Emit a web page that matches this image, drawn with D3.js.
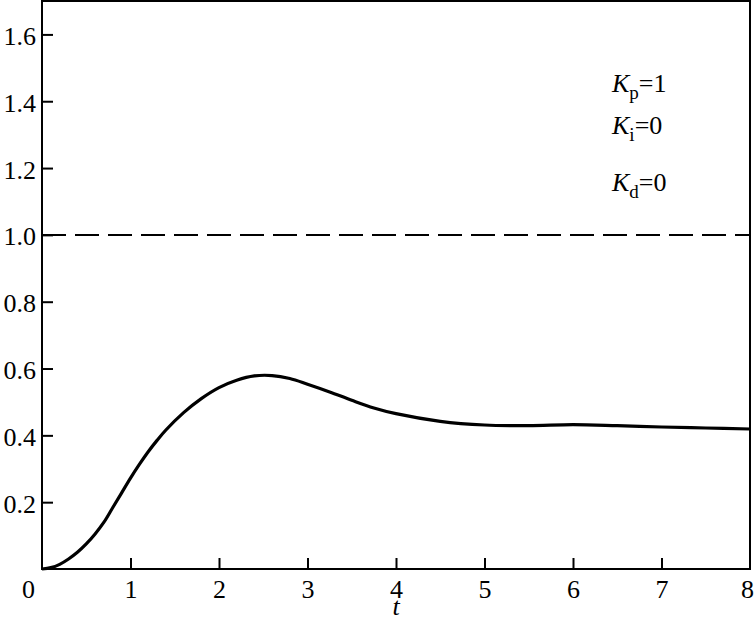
<!DOCTYPE html>
<html><head><meta charset="utf-8">
<script src="https://cdn.jsdelivr.net/npm/d3@7"></script>
<style>body{margin:0;background:#fff}svg{display:block}</style>
</head><body><svg id="c" width="755" height="620"></svg>
<script>
const tValues = [0,0.1,0.2,0.3,0.4,0.5,0.6,0.7,0.8,0.9,1.0,1.1,1.2,1.3,1.4,1.6,1.8,2.0,2.2,2.4,2.6,2.8,3.0,3.25,3.5,3.75,4.0,4.5,5.0,5.5,6.0,6.5,7.0,7.5,8.0];
const yValues = [0,0.004,0.014,0.030,0.050,0.075,0.105,0.140,0.184,0.228,0.272,0.313,0.351,0.385,0.416,0.468,0.51,0.543,0.565,0.578,0.579,0.570,0.553,0.53,0.505,0.482,0.465,0.442,0.431,0.429,0.432,0.429,0.425,0.422,0.419];
const referenceValue = [1.0];
const xTicks = [0,1,2,3,4,5,6,7,8];
const yTicks = [0.2,0.4,0.6,0.8,1.0,1.2,1.4,1.6];
const yTickLabels = ["0.2","0.4","0.6","0.8","1.0","1.2","1.4","1.6"];
const params = [["K","p","=1"],["K","i","=0"],["K","d","=0"]];

const FONT = '"Liberation Serif", "Times New Roman", serif';
const svg = d3.select("#c");
const L=42, R=750, T=1, B=569;
const x = d3.scaleLinear().domain([0,8]).range([L,R]);
const y = d3.scaleLinear().domain([0,1.7]).range([B,T]);

// frame
svg.append("rect").attr("x",L).attr("y",T).attr("width",R-L).attr("height",B-T)
  .attr("fill","none").attr("stroke","#000").attr("stroke-width",2);

// x axis ticks (inward)
const xa = svg.append("g").attr("transform",`translate(0,${B})`)
  .call(d3.axisBottom(x).tickValues(xTicks).tickSizeInner(-11).tickSizeOuter(0).tickPadding(0).tickFormat(d3.format("d")));
xa.select(".domain").remove();
xa.selectAll(".tick line").attr("stroke","#000").attr("stroke-width",2);
xa.selectAll(".tick text").style("font-family",FONT).style("font-size","26px").attr("fill","#000")
  .attr("y",29).attr("dy",0)
  .attr("dx",d=>d===0?-14:(d===8?-3:0));
xa.selectAll(".tick").filter(d=>d===0||d===8).select("line").remove();

// y axis ticks (inward)
const ya = svg.append("g").attr("transform",`translate(${L},0)`)
  .call(d3.axisLeft(y).tickValues(yTicks).tickSizeInner(-11).tickSizeOuter(0).tickPadding(0).tickFormat((d,i)=>yTickLabels[i]));
ya.select(".domain").remove();
ya.selectAll(".tick line").attr("stroke","#000").attr("stroke-width",2);
ya.selectAll(".tick text").style("font-family",FONT).style("font-size","26px").attr("fill","#000")
  .attr("x",-6).attr("dy",0).attr("y",10);

// axis title
svg.append("text").attr("x",(L+R)/2).attr("y",615).attr("text-anchor","middle")
  .style("font-family",FONT).style("font-size","26px").style("font-style","italic").text("t");

// dashed reference
svg.selectAll(".ref").data(referenceValue).enter().append("line")
  .attr("x1",L).attr("x2",R).attr("y1",d=>y(d)).attr("y2",d=>y(d))
  .attr("stroke","#000").attr("stroke-width",2).attr("stroke-dasharray","24,9");

// curve
const data = tValues.map((t,i)=>[t,yValues[i]]);
svg.append("path").datum(data)
  .attr("d", d3.line().x(d=>x(d[0])).y(d=>y(d[1])).curve(d3.curveCatmullRom.alpha(0.5)))
  .attr("fill","none").attr("stroke","#000").attr("stroke-width",3.2);

// annotations
const baseY = [92,134,191];
params.forEach((p,i)=>{
  const t = svg.append("text").attr("x",612).attr("y",baseY[i])
    .style("font-family",FONT).style("font-size","26px");
  t.append("tspan").style("font-style","italic").text(p[0]);
  t.append("tspan").style("font-size","19px").attr("dy",7).text(p[1]);
  t.append("tspan").attr("dy",-7).text(p[2]);
});
</script></body></html>
